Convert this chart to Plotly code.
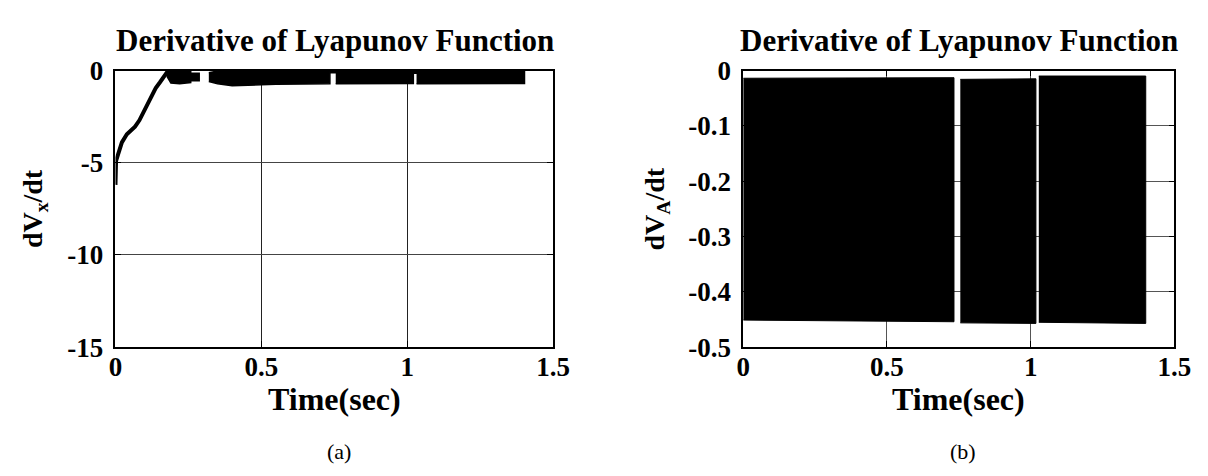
import plotly.graph_objects as go

FONT = "Liberation Serif, Times New Roman, serif"

# ---------------- panel (a): dVx/dt ----------------
vx_curve_t = [0.0, 0.0, 0.002, 0.006, 0.014, 0.022, 0.039, 0.055, 0.067, 0.082,
              0.096, 0.110, 0.124, 0.138, 0.152, 0.165, 0.174, 0.180]
vx_curve_v = [-6.2, -5.0, -4.9, -4.7, -4.2, -3.9, -3.46, -3.25, -3.04, -2.7,
              -2.27, -1.8, -1.33, -0.95, -0.65, -0.35, -0.14, -0.02]

# oscillation band (upper / lower envelope) per continuous segment
vx_band_t = [[0.176, 0.19, 0.22, 0.258],
             [0.258, 0.287],
             [0.32, 0.35, 0.40, 0.55, 0.735],
             [0.735, 0.755],
             [0.755, 0.90, 1.021],
             [1.021, 1.032],
             [1.032, 1.20, 1.402]]
vx_band_up = [[0.0, 0.0, 0.0, 0.0],
              [-0.15, -0.15],
              [-0.12, -0.03, 0.0, 0.0, 0.0],
              [0.0, 0.0],
              [0.0, 0.0, 0.0],
              [0.0, 0.0],
              [0.0, 0.0, 0.0]]
vx_band_lo = [[-0.3, -0.68, -0.72, -0.65],
              [-0.56, -0.56],
              [-0.6, -0.72, -0.82, -0.75, -0.72],
              [-0.12, -0.12],
              [-0.72, -0.72, -0.70],
              [-0.15, -0.15],
              [-0.72, -0.72, -0.70]]

# ---------------- panel (b): dVA/dt ----------------
va_block_t = [[0.0, 0.733], [0.755, 1.018], [1.028, 1.40]]
va_block_up = [[-0.014, -0.013], [-0.016, -0.015], [-0.010, -0.010]]
va_block_lo = [[-0.451, -0.454], [-0.456, -0.457], [-0.455, -0.457]]

x_ticks = [0, 0.5, 1, 1.5]
x_ticktext = ["0", "0.5", "1", "1.5"]
ya_ticks = [-15, -10, -5, 0]
ya_ticktext = ["-15", "-10", "-5", "0"]
yb_ticks = [-0.5, -0.4, -0.3, -0.2, -0.1, 0]
yb_ticktext = ["-0.5", "-0.4", "-0.3", "-0.2", "-0.1", "0"]

W, H = 1208, 476

fig = go.Figure()

# panel (a)
fig.add_trace(go.Scatter(x=vx_curve_t, y=vx_curve_v, mode="lines",
                         line=dict(color="black", width=4),
                         xaxis="x", yaxis="y", showlegend=False))
for t, up, lo in zip(vx_band_t, vx_band_up, vx_band_lo):
    fig.add_trace(go.Scatter(x=t + t[::-1], y=up + lo[::-1], mode="lines",
                             fill="toself", fillcolor="black",
                             line=dict(color="black", width=1.5),
                             xaxis="x", yaxis="y", showlegend=False))

# panel (b)
for t, up, lo in zip(va_block_t, va_block_up, va_block_lo):
    fig.add_trace(go.Scatter(x=t + t[::-1], y=up + lo[::-1], mode="lines",
                             fill="toself", fillcolor="black",
                             line=dict(color="black", width=1),
                             xaxis="x2", yaxis="y2", showlegend=False))

tickfont = dict(family=FONT, size=27, color="black", weight="bold")

def px_x(p):
    return p / W

def px_y(p):
    return 1 - p / H

top, bottom = 50.7, 346.0
ax_common = dict(showline=True, linecolor="black", linewidth=1.5, mirror="ticks",
                 ticks="inside", ticklen=6, tickcolor="black", tickwidth=1,
                 showgrid=True, gridwidth=1, zeroline=False,
                 tickfont=tickfont)

fig.update_layout(
    width=W, height=H,
    margin=dict(l=0, r=0, t=0, b=0),
    paper_bgcolor="white", plot_bgcolor="white",
    xaxis=dict(domain=[px_x(102.5), px_x(549)], range=[0, 1.5],
               tickvals=x_ticks, ticktext=x_ticktext, anchor="y",
               gridcolor="#222", ticklabelstandoff=-5, **ax_common),
    yaxis=dict(domain=[px_y(bottom), px_y(top)], range=[-15, 0],
               tickvals=ya_ticks, ticktext=ya_ticktext, anchor="x",
               gridcolor="#444", ticklabelstandoff=5, **ax_common),
    xaxis2=dict(domain=[px_x(743), px_x(1183)], range=[0, 1.5],
                tickvals=x_ticks, ticktext=x_ticktext, anchor="y2",
                gridcolor="#555", ticklabelstandoff=-5, **ax_common),
    yaxis2=dict(domain=[px_y(bottom), px_y(top)], range=[-0.5, 0],
                tickvals=yb_ticks, ticktext=yb_ticktext, anchor="x2",
                gridcolor="#555", ticklabelstandoff=5, **ax_common),
)

title_font = dict(family=FONT, size=31, color="black", weight="bold")
xtitle_font = dict(family=FONT, size=32, color="black", weight="bold")
ytitle_font = dict(family=FONT, size=28, color="black", weight="bold")
cap_font = dict(family=FONT, size=22, color="black")

annots = [
    dict(text="Derivative of Lyapunov Function", x=px_x(326), y=px_y(19), font=title_font),
    dict(text="Derivative of Lyapunov Function", x=px_x(963), y=px_y(19), font=title_font),
    dict(text="Time(sec)", x=px_x(326), y=px_y(401), font=xtitle_font),
    dict(text="Time(sec)", x=px_x(963), y=px_y(401), font=xtitle_font),
    dict(text="dV<sub>x</sub>/dt", x=px_x(20), y=px_y(198), font=ytitle_font, textangle=-90),
    dict(text="dV<sub>A</sub>/dt", x=px_x(655), y=px_y(198), font=ytitle_font, textangle=-90),
    dict(text="(a)", x=px_x(331), y=px_y(457), font=cap_font),
    dict(text="(b)", x=px_x(967), y=px_y(457), font=cap_font),
]
for a in annots:
    fig.add_annotation(xref="paper", yref="paper", showarrow=False,
                       xanchor="center", yanchor="middle", **a)

fig.write_html("out.html")
